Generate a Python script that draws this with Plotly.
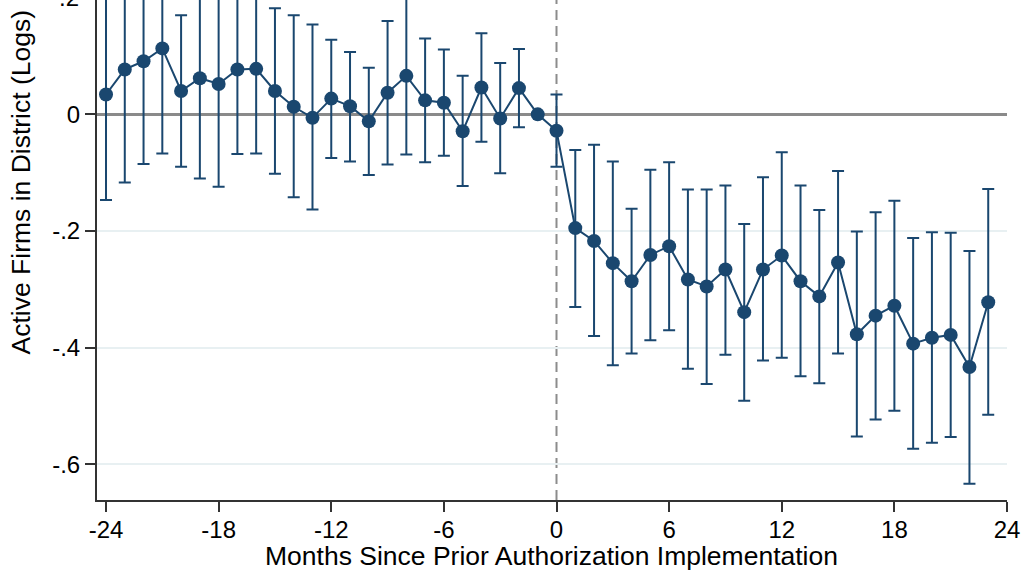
import plotly.graph_objects as go

# Event-study estimates: months relative to prior authorization start
months = list(range(-24, 24))
coef = [0.034, 0.077, 0.091, 0.113, 0.040, 0.062, 0.052, 0.077, 0.078, 0.040,
        0.013, -0.006, 0.027, 0.014, -0.012, 0.037, 0.066, 0.024, 0.020, -0.029,
        0.046, -0.007, 0.045, 0.000, -0.028,
        -0.195, -0.217, -0.255, -0.286, -0.241, -0.226, -0.283, -0.295, -0.266,
        -0.339, -0.266, -0.242, -0.286, -0.312, -0.254, -0.377, -0.345, -0.328,
        -0.393, -0.383, -0.378, -0.433, -0.322]
ci_lo = [-0.147, -0.117, -0.085, -0.067, -0.090, -0.110, -0.124, -0.068, -0.067, -0.102,
         -0.142, -0.163, -0.075, -0.081, -0.104, -0.086, -0.069, -0.082, -0.071, -0.123,
         -0.047, -0.101, -0.022, None, -0.090,
         -0.330, -0.380, -0.430, -0.410, -0.387, -0.370, -0.436, -0.462, -0.412,
         -0.491, -0.422, -0.417, -0.449, -0.461, -0.410, -0.552, -0.523, -0.508,
         -0.573, -0.563, -0.553, -0.633, -0.515]
ci_hi = [0.215, 0.271, 0.267, 0.293, 0.170, 0.234, 0.228, 0.222, 0.223, 0.182,
         0.170, 0.154, 0.128, 0.107, 0.080, 0.160, 0.201, 0.130, 0.111, 0.066,
         0.139, 0.088, 0.112, None, 0.034,
         -0.061, -0.052, -0.081, -0.162, -0.095, -0.082, -0.129, -0.129, -0.122,
         -0.188, -0.108, -0.065, -0.122, -0.164, -0.097, -0.201, -0.168, -0.148,
         -0.212, -0.202, -0.203, -0.234, -0.128]

x_ticks = [-24, -18, -12, -6, 0, 6, 12, 18, 24]
x_ticktext = ["-24", "-18", "-12", "-6", "0", "6", "12", "18", "24"]
y_ticks = [-0.6, -0.4, -0.2, 0]
y_ticktext = ["-.6", "-.4", "-.2", "0"]

NAVY = "#1a476f"
FONT = "Liberation Sans, Arial, sans-serif"

err_plus = [None if h is None else h - c for h, c in zip(ci_hi, coef)]
err_minus = [None if l is None else c - l for l, c in zip(ci_lo, coef)]

fig = go.Figure()
fig.add_trace(go.Scatter(
    x=months, y=coef, mode="lines+markers",
    line=dict(color=NAVY, width=2),
    marker=dict(color=NAVY, size=14),
    error_y=dict(type="data", symmetric=False, array=err_plus, arrayminus=err_minus,
                 color=NAVY, thickness=2, width=6),
    showlegend=False,
))

# Reference line at the implementation month
fig.add_shape(type="line", xref="x", yref="paper", x0=0, x1=0, y0=0, y1=1,
              line=dict(color="#8c8c8c", width=2, dash="10px,6px"), layer="below")

y_lo, y_hi = -0.661, 0.196
frac_02 = (0.2 - y_lo) / (y_hi - y_lo)

fig.add_annotation(text=".2", xref="paper", yref="paper", x=0, y=frac_02,
                   xanchor="right", yanchor="middle", xshift=-16, showarrow=False,
                   font=dict(family=FONT, size=24, color="black"))
fig.add_annotation(text="Active Firms in District (Logs)", xref="paper", yref="paper",
                   x=-0.083, y=(500 - 182) / 500, textangle=-90, showarrow=False,
                   xanchor="center", yanchor="middle",
                   font=dict(family=FONT, size=26.5, color="black"))
fig.add_annotation(text="Months Since Prior Authorization Implementation",
                   xref="paper", yref="paper", x=(551.5 - 97) / 910, y=-(556 - 500) / 500,
                   xanchor="center", yanchor="middle", showarrow=False,
                   font=dict(family=FONT, size=26.5, color="black"))

fig.update_xaxes(range=[-24.48, 24.0], tickvals=x_ticks, ticktext=x_ticktext,
                 ticks="outside", ticklen=10, ticklabelstandoff=-3,
                 tickwidth=2, tickcolor="#333333", showline=True, linecolor="#333333",
                 linewidth=2, showgrid=False, zeroline=False,
                 tickfont=dict(family=FONT, size=24, color="black"))
fig.update_yaxes(range=[y_lo, y_hi], tickvals=y_ticks, ticktext=y_ticktext,
                 ticks="outside", ticklen=10, tickwidth=2, tickcolor="#333333",
                 showline=True, linecolor="#333333", linewidth=2,
                 showgrid=True, gridcolor="#e8f0f2", gridwidth=2,
                 zeroline=True, zerolinecolor="#8a8a8a", zerolinewidth=2.5,
                 tickfont=dict(family=FONT, size=24, color="black"))

fig.update_layout(width=1026, height=570, margin=dict(l=97, r=19, t=0, b=70),
                  plot_bgcolor="white", paper_bgcolor="white")

fig.write_html("out.html")
